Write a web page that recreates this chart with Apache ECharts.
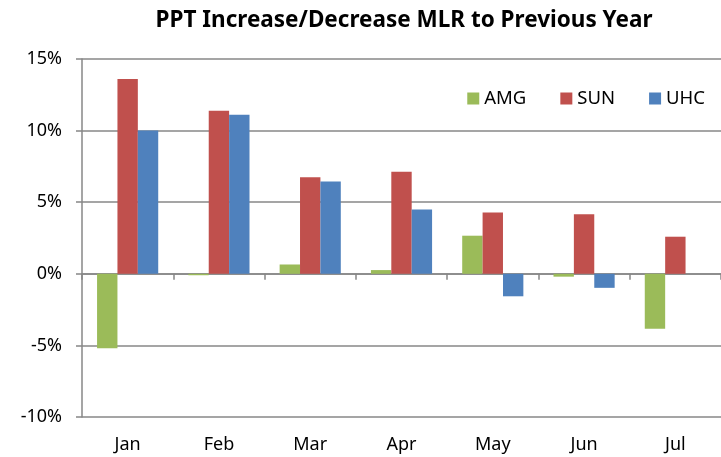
<!DOCTYPE html>
<html lang="en">
<head>
  <meta charset="UTF-8">
  <title>MLR</title>
  <script src="https://cdn.jsdelivr.net/npm/echarts@6/dist/echarts.min.js"></script>
  <style type="text/css">
    body{ margin:0; background:#ffffff; }
    #main{ width:721px; height:457px; }
  </style>
</head>
<body>
<div id="main"></div>
<script type="text/javascript">
// data (fractions)
var months = ['Jan', 'Feb', 'Mar', 'Apr', 'May', 'Jun', 'Jul'];
var amg = [-0.052, -0.001, 0.0065, 0.0026, 0.0266, -0.002, -0.0383];
var sun = [0.136, 0.1138, 0.0675, 0.0713, 0.0428, 0.0416, 0.0259];
var uhc = [0.100, 0.111, 0.0645, 0.0449, -0.0157, -0.0098, 0];
var yTicks = [-0.10, -0.05, 0, 0.05, 0.10, 0.15];

var font = 'Noto Sans';
var myChart = echarts.init(document.getElementById('main'));

function bar(name, data, color) {
  return {
    name: name,
    type: 'bar',
    data: data,
    barGap: '0%',
    barCategoryGap: '33%',
    itemStyle: { color: color }
  };
}

var option = {
  animation: false,
  title: {
    text: 'PPT Increase/Decrease MLR to Previous Year',
    left: 399,
    textAlign: 'center',
    top: 4,
    textStyle: { fontFamily: font, fontSize: 22.5, fontWeight: 'bold', color: '#000' }
  },
  legend: {
    data: ['AMG', 'SUN', 'UHC'],
    right: 11,
    top: 84,
    itemWidth: 12,
    itemHeight: 12,
    itemGap: 34,
    icon: 'rect',
    textStyle: { fontFamily: font, fontSize: 18.5, color: '#000' }
  },
  grid: { left: 82, right: 0, top: 59, bottom: 40 },
  xAxis: [
    {
      type: 'category',
      data: months,
      axisLine: { onZero: true, lineStyle: { color: '#878787', width: 1.5 } },
      axisTick: { show: true, length: 6, lineStyle: { color: '#878787', width: 1.5 } },
      axisLabel: { show: false }
    },
    {
      type: 'category',
      data: months,
      position: 'bottom',
      axisLine: { show: false },
      axisTick: { show: false },
      axisLabel: { fontFamily: font, fontSize: 18, color: '#000', margin: 19 }
    }
  ],
  yAxis: {
    type: 'value',
    min: yTicks[0],
    max: yTicks[yTicks.length - 1],
    interval: 0.05,
    axisLine: { show: true, lineStyle: { color: '#878787', width: 1.5 } },
    axisTick: { show: true, length: 6, lineStyle: { color: '#878787', width: 1.5 } },
    splitLine: { lineStyle: { color: '#878787', width: 1.5 } },
    axisLabel: {
      fontFamily: font, fontSize: 18, color: '#000', margin: 20,
      formatter: function (v) { return Math.round(v * 100) + '%'; }
    }
  },
  series: [
    bar('AMG', amg, '#9BBB59'),
    bar('SUN', sun, '#C0504D'),
    bar('UHC', uhc, '#4F81BD')
  ]
};
myChart.setOption(option);
</script>
</body>
</html>
